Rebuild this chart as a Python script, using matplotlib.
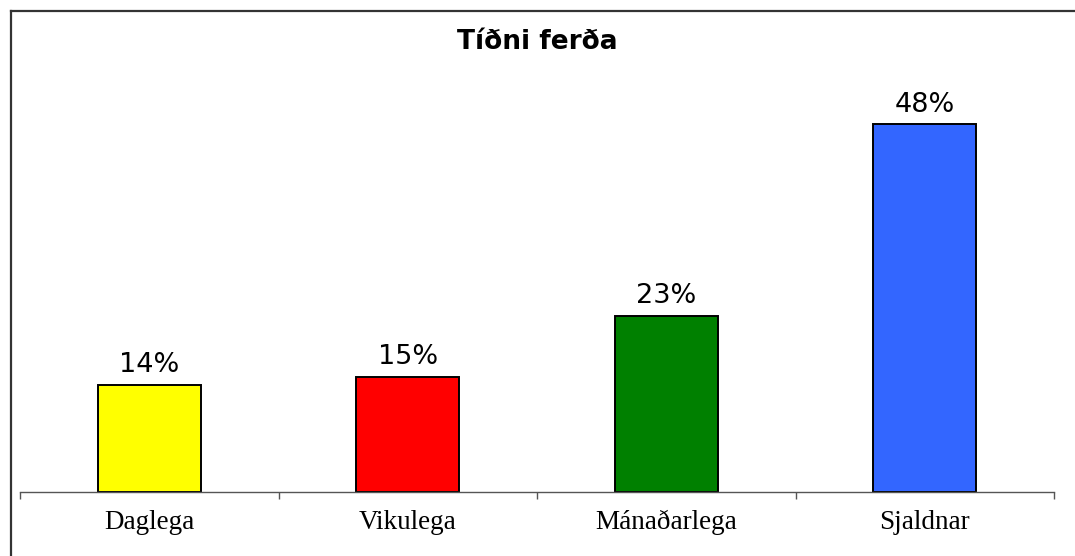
import matplotlib
matplotlib.use("Agg")
import matplotlib.pyplot as plt
from matplotlib.lines import Line2D

# ─── DATA ─────────────────────────────────────────────────────────────────────
categories = ["Daglega", "Vikulega", "Mánaðarlega", "Sjaldnar"]
values     = [14, 15, 23, 48]
bar_colors = ["#FFFF00", "#FF0000", "#008000", "#3366FF"]
title      = "Tíðni ferða"

W, H, DPI = 1075, 556, 100

fig = plt.figure(figsize=(W / DPI, H / DPI), dpi=DPI, facecolor="white")

# axes placed in pixel terms: left 20, right 1054, bottom 492, top 30
left, right, bottom, top = 20, 1054, 492, 30
ax = fig.add_axes([left / W, 1 - bottom / H, (right - left) / W, (bottom - top) / H])

x = list(range(len(categories)))
ax.bar(x, values, width=0.4, color=bar_colors, edgecolor="black", linewidth=1.4)

# px per % = 368/48 in the reference
ymax = (bottom - top) / (368 / 48)
ax.set_ylim(0, ymax)
ax.set_xlim(-0.5, len(categories) - 0.5)

for xi, v in zip(x, values):
    ax.annotate(f"{v}%", (xi, v), xytext=(0, 9), textcoords="offset points",
                ha="center", va="baseline", fontsize=19.5, family="DejaVu Sans")

# axis styling
for s in ["top", "right", "left"]:
    ax.spines[s].set_visible(False)
ax.spines["bottom"].set_color("#555555")
ax.spines["bottom"].set_linewidth(1.0)
ax.set_yticks([])
ax.set_xticks(x)
ax.set_xticklabels(categories, family="Liberation Serif", fontsize=19.5)
ax.tick_params(axis="x", which="major", length=0, pad=13)
ax.set_xticks([i - 0.5 for i in range(len(categories) + 1)], minor=True)
ax.tick_params(axis="x", which="minor", length=5, color="#555555", width=1.0)

fig.text(537 / W, 1 - 42 / H, title, ha="center", va="center",
         fontsize=19, fontweight="bold", family="DejaVu Sans")

# outer frame (only top and left edges are visible in the crop)
bx, by = 10.5 / W, 1 - 10.5 / H
fig.add_artist(Line2D([bx, bx], [0, by], transform=fig.transFigure,
                      color="#333333", linewidth=1.6))
fig.add_artist(Line2D([bx, 1], [by, by], transform=fig.transFigure,
                      color="#333333", linewidth=1.6))

fig.savefig("out.png", dpi=DPI)
